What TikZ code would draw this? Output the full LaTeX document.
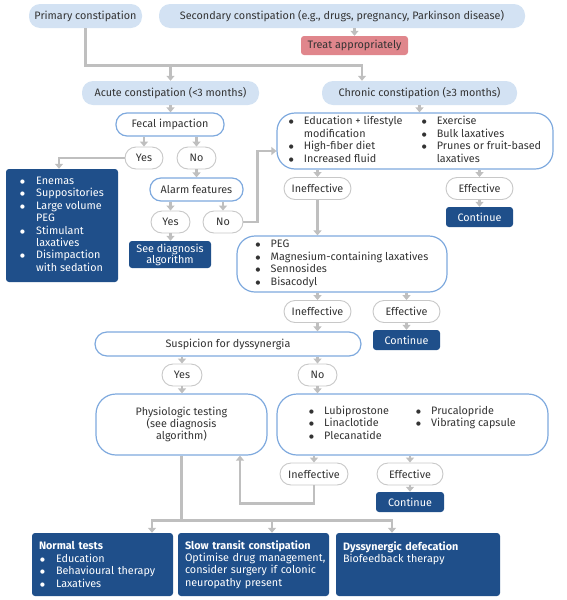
\documentclass[tikz,border=0pt]{standalone}
\usepackage{fontspec}
\setmainfont{Fira Sans}
\newfontfamily\dotfont{DejaVu Sans}
\usepackage{tikz}
\usetikzlibrary{positioning}
\usetikzlibrary{arrows.meta}
\usepackage{xcolor}

\definecolor{lightfill}{HTML}{D3E2F3}
\definecolor{treatred}{HTML}{E0868C}
\definecolor{darkblue}{HTML}{1F4F8A}
\definecolor{stepblue}{HTML}{7EA9DE}
\definecolor{flowgray}{HTML}{BFBFBF}
\definecolor{answergray}{HTML}{C8C8C8}
\definecolor{textgray}{HTML}{333333}

\newcommand{\bul}{\raisebox{1pt}{\dotfont\fontsize{5.5}{5.5}\selectfont ●}}

\begin{document}
\begin{tikzpicture}[x=1pt, y=-1pt,
  every node/.style={font=\fontsize{10.8}{12.4}\selectfont, text=textgray, inner sep=0pt},
  topbox/.style={fill=lightfill, rounded corners=11pt, minimum height=24pt},
  treatbox/.style={fill=treatred, rounded corners=3pt, minimum height=19pt},
  stepbox/.style={draw=stepblue, line width=1.2pt, fill=white, rounded corners=11pt, minimum height=23pt},
  bigbox/.style={stepbox, rounded corners=18pt},
  answer/.style={draw=answergray, line width=0.9pt, fill=white, rounded corners=11pt, minimum height=22pt},
  resultbox/.style={fill=darkblue, rounded corners=3pt, text=white},
  endbox/.style={resultbox, minimum height=63pt, inner xsep=7pt, align=left},
  flow/.style={flowgray, line width=2.6pt, -{Triangle[width=8pt,length=5pt]}},
  flowline/.style={flowgray, line width=2.6pt}
]

\useasboundingbox (0,0) rectangle (566,600);

% top row
\node[topbox, minimum width=113pt] (primary) at (85.5,16) {Primary constipation};
\node[topbox, minimum width=366pt] (secondary) at (342,16) {Secondary constipation (e.g., drugs, pregnancy, Parkinson disease)};
\node[treatbox, minimum width=107pt] (treat) at (354.5,45.5) {Treat appropriately};
\node[topbox, minimum width=177pt] (acute) at (170.5,93) {Acute constipation (<3 months)};
\node[topbox, minimum width=195pt] (chronic) at (419.5,93) {Chronic constipation (≥3 months)};

% acute branch
\node[stepbox, minimum width=108pt] (fecal) at (170,124.5) {Fecal impaction};
\node[answer, minimum width=38pt] (yesA) at (144,158) {Yes};
\node[answer, minimum width=39pt] (noA) at (196.5,158) {No};
\node[resultbox, minimum width=112pt, minimum height=113pt] (enemas) at (62,225.5)
{\begin{tabular}{@{}p{16pt}@{}l@{}}
\bul & Enemas\\
\bul & Suppositories\\
\bul & Large volume\\
 & PEG\\
\bul & Stimulant\\
 & laxatives\\
\bul & Disimpaction\\
 & with sedation
\end{tabular}};
\node[stepbox, minimum width=93pt] (alarm) at (196.5,189.5) {Alarm features};
\node[answer, minimum width=39pt] (yesB) at (170.5,222) {Yes};
\node[answer, minimum width=40pt] (noB) at (223,222) {No};
\node[resultbox, minimum width=82pt, minimum height=27pt, align=center] (seediag) at (170,254.5)
{See diagnosis\\[-1.5pt]algorithm};

% chronic branch
\node[bigbox, minimum width=276pt, minimum height=56pt] (lifestyle) at (415,141)
{\begin{tabular}{@{}p{15pt}@{}p{118pt}@{}p{15pt}@{}l@{}}
\bul & Education + lifestyle & \bul & Exercise\\
 & modification & \bul & Bulk laxatives\\
\bul & High-fiber diet & \bul & Prunes or fruit-based\\
\bul & Increased fluid & & laxatives
\end{tabular}};
\node[answer, minimum width=67pt] (ineffA) at (317.5,188.5) {Ineffective};
\node[answer, minimum width=67pt] (effA) at (479.5,188.5) {Effective};
\node[resultbox, minimum width=67pt, minimum height=20pt] (contA) at (479.5,217) {Continue};

\node[bigbox, minimum width=210pt, minimum height=56pt] (laxative) at (342,264)
{\begin{tabular}{@{}p{15pt}@{}l@{}}
\bul & PEG\\
\bul & Magnesium-containing laxatives\\
\bul & Sennosides\\
\bul & Bisacodyl
\end{tabular}};
\node[answer, minimum width=67pt] (ineffB) at (317.5,311.5) {Ineffective};
\node[answer, minimum width=67pt] (effB) at (406.5,311.5) {Effective};
\node[resultbox, minimum width=67pt, minimum height=20pt] (contB) at (406.5,340) {Continue};

% dyssynergia
\node[stepbox, minimum width=266pt, minimum height=24pt, rounded corners=12pt] (suspicion) at (228,344) {Suspicion for dyssynergia};
\node[answer, minimum width=40pt] (yesC) at (182,375) {Yes};
\node[answer, minimum width=39pt] (noC) at (317.5,375) {No};
\node[bigbox, minimum width=171pt, minimum height=61pt, rounded corners=20pt, align=center] (physio) at (181.5,424.5)
{Physiologic testing\\(see diagnosis\\algorithm)};
\node[bigbox, minimum width=271pt, minimum height=61pt, rounded corners=20pt] (secline) at (412.5,424.5)
{\begin{tabular}{@{}p{15pt}@{}p{92pt}@{}p{15pt}@{}l@{}}
\bul & Lubiprostone & \bul & Prucalopride\\
\bul & Linaclotide & \bul & Vibrating capsule\\
\bul & Plecanatide & &
\end{tabular}};
\node[answer, minimum width=68pt] (ineffC) at (314,474) {Ineffective};
\node[answer, minimum width=66pt] (effC) at (410,474) {Effective};
\node[resultbox, minimum width=68pt, minimum height=20pt] (contC) at (410,502) {Continue};

% outcome boxes
\node[endbox, text width=127pt] (normal) at (102.5,564.5)
{\textbf{Normal tests}\\
\makebox[17pt][l]{\hspace{1pt}\bul}Education\\
\makebox[17pt][l]{\hspace{1pt}\bul}Behavioural therapy\\
\makebox[17pt][l]{\hspace{1pt}\bul}Laxatives};
\node[endbox, text width=137pt] (slow) at (253.5,564.5)
{\textbf{Slow transit constipation}\\
\mbox{Optimise drug management,}\\
\mbox{consider surgery if colonic}\\
neuropathy present};
\node[endbox, text width=150pt] (dyss) at (418,564.5)
{\textbf{Dyssynergic defecation}\\
Biofeedback therapy\\
\mbox{}\\
\mbox{}};

% connectors
\coordinate (chronicin) at ([xshift=-57.5pt]chronic.north);
\draw[flow] (primary.south) -- ++(0,37) coordinate (split) -| (chronicin);
\draw[flow] (acute.north |- split) -- (acute.north);
\draw[flow] (treat.north |- secondary.south) -- (treat.north);

\draw[flow] (acute.south) -- (acute.south |- fecal.north);
\draw[flow] (chronic.south) -- (chronic.south |- lifestyle.north);

\draw[flow] (yesA.north |- fecal.south) -- (yesA.north);
\draw[flow] (noA.north |- fecal.south) -- (noA.north);
\draw[flow] (yesA.west) -| ([xshift=-3pt]enemas.north);
\draw[flow] (noA.south) -- (noA.south |- alarm.north);
\draw[flow] (yesB.north |- alarm.south) -- (yesB.north);
\draw[flow] (noB.north |- alarm.south) -- (noB.north);
\draw[flow] (yesB.south) -- (yesB.south |- seediag.north);
\draw[flow] (noB.east) -- ++(14,0) |- ([yshift=-10pt]lifestyle.west);

\draw[flow] (ineffA.north |- lifestyle.south) -- (ineffA.north);
\draw[flow] (effA.north |- lifestyle.south) -- (effA.north);
\draw[flow] (effA.south) -- (contA.north);
\draw[flow] (ineffA.south) -- (ineffA.south |- laxative.north);

\draw[flow] (ineffB.north |- laxative.south) -- (ineffB.north);
\draw[flow] (effB.north |- laxative.south) -- (effB.north);
\draw[flow] (effB.south) -- (contB.north);
\draw[flow] (ineffB.south) -- (ineffB.south |- suspicion.north);

\draw[flow] (yesC.north |- suspicion.south) -- (yesC.north);
\draw[flow] (noC.north |- suspicion.south) -- (noC.north);
\draw[flow] (yesC.south) -- (yesC.south |- physio.north);
\draw[flow] (noC.south) -- (noC.south |- secline.north);

\draw[flow] (ineffC.north |- secline.south) -- (ineffC.north);
\draw[flow] (effC.north |- secline.south) -- (effC.north);
\draw[flow] (effC.south) -- (contC.north);
\draw[flow] (ineffC.south) -- ++(0,18) -| ([xshift=58.5pt]physio.south);

\draw[flowline] (physio.south) -- ++(0,65) coordinate (fork);
\draw[flow] (fork) -| ([xshift=49.5pt]normal.north);
\draw[flow] (fork) -| ([xshift=18.5pt]slow.north);
\draw[flow] (fork) -| ([xshift=-26pt]dyss.north);

\end{tikzpicture}
\end{document}
